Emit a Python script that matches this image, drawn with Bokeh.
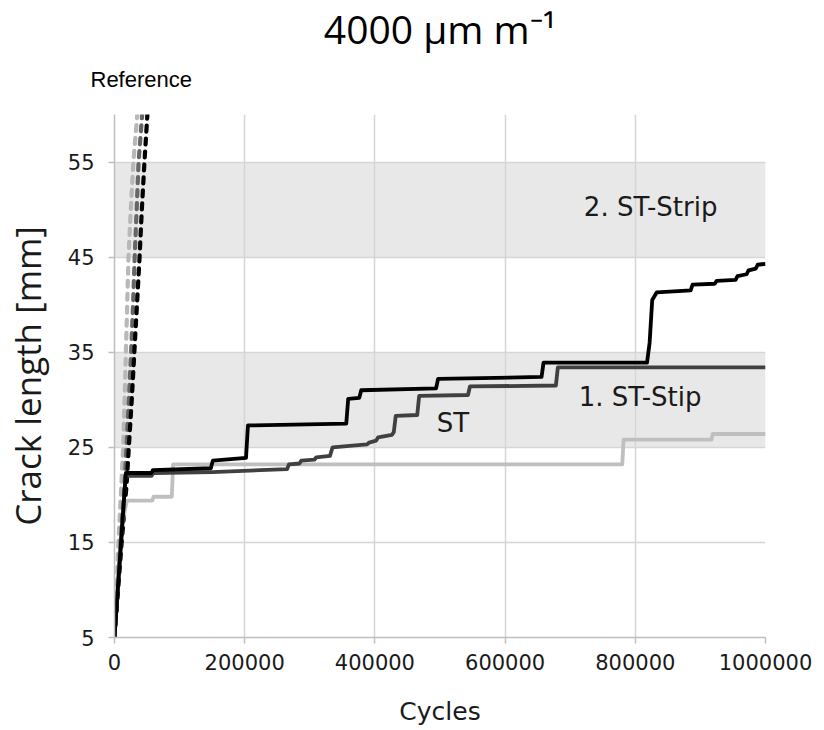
from bokeh.plotting import figure
from bokeh.models import Label, Range1d, FixedTicker, NumeralTickFormatter, Title
from bokeh.embed import file_html
from bokeh.resources import INLINE

# ---------------- data ----------------
x_ticks = [0, 200000, 400000, 600000, 800000, 1000000]
y_ticks = [5, 15, 25, 35, 45, 55]

band_bottom = [25, 45]
band_top = [35, 55]

# reference curves (dashed)
ref_light_cycles = [0, 6000, 10500, 13300, 15500, 17500, 19500, 21500, 25000, 29000, 35000]
ref_light_length = [5, 15, 21, 25, 30, 35, 40, 45, 50, 55, 60]

ref_dark_cycles = [0, 9000, 15500, 18400, 22000, 25500, 28500, 31000, 34000, 37000, 42500]
ref_dark_length = [5, 15, 21, 25, 30, 35, 40, 45, 50, 55, 60]

ref_black_cycles = [0, 11000, 18500, 22000, 26500, 30500, 34500, 38500, 42000, 46000, 50500]
ref_black_length = [5, 15, 21, 25, 30, 35, 40, 45, 50, 55, 60]

# measured curves (solid)
light_cycles = [0, 6000, 12000, 19000, 58000, 60000, 88000, 90000, 780000, 782000,
                917000, 919000, 1000000]
light_length = [5, 12, 17, 19.4, 19.4, 19.8, 19.8, 23.2, 23.2, 25.8,
                25.8, 26.4, 26.4]

dark_cycles = [0, 8000, 17000, 57000, 59000, 150000, 265000, 268000, 284000, 287000,
               307000, 310000, 331000, 335000, 370000, 388000, 391000, 402000, 405000,
               426000, 429000, 432000, 465000, 468000, 543000, 546000, 678000, 681000,
               1000000]
dark_length = [5, 13, 22.0, 22.0, 22.3, 22.4, 22.7, 23.2, 23.3, 23.6,
               23.7, 23.95, 24.1, 25.0, 25.2, 25.3, 25.5, 25.7, 26.05,
               26.3, 26.6, 28.3, 28.4, 30.4, 30.5, 31.4, 31.5, 33.4,
               33.4]

black_cycles = [0, 8000, 17500, 57000, 59000, 148000, 151000, 202000, 205000, 356000,
                359000, 376000, 379000, 494000, 497000, 656000, 659000, 818000, 822000,
                826000, 833000, 885000, 888000, 922000, 925000, 954000, 957000, 971000,
                974000, 985000, 988000, 1000000]
black_length = [5, 13, 22.3, 22.3, 22.6, 22.8, 23.6, 23.9, 27.3, 27.5,
                30.1, 30.2, 31.0, 31.2, 32.2, 32.4, 33.9, 33.9, 36.0,
                40.5, 41.3, 41.5, 42.1, 42.2, 42.5, 42.6, 43.0, 43.2,
                43.6, 43.8, 44.2, 44.3]

# ---------------- figure ----------------
p = figure(width=824, height=730, output_backend="svg", toolbar_location=None,
           x_range=Range1d(0, 1000000), y_range=Range1d(5, 60),
           min_border_left=114, min_border_right=59, min_border_top=0,
           min_border_bottom=93)
p.title_location = None
p.outline_line_color = None
p.background_fill_color = "white"
p.border_fill_color = "white"

# shaded bands
p.quad(left=0, right=1000000, bottom=band_bottom, top=band_top,
       fill_color="#e8e8e8", line_color=None, level="image")

# grid
for g in (p.xgrid, p.ygrid):
    g.grid_line_color = "#d6d6d6"
    g.grid_line_width = 1.5
p.xgrid.ticker = FixedTicker(ticks=x_ticks)
p.ygrid.ticker = FixedTicker(ticks=y_ticks)

# axes
p.xaxis.ticker = FixedTicker(ticks=x_ticks)
p.yaxis.ticker = FixedTicker(ticks=y_ticks)
p.xaxis.formatter = NumeralTickFormatter(format="0")
for ax in (p.xaxis, p.yaxis):
    ax.axis_line_color = "#bfbfbf"
    ax.axis_line_width = 1.5
    ax.major_tick_line_color = "#bfbfbf"
    ax.major_tick_line_width = 1.5
    ax.major_tick_out = 6
    ax.major_tick_in = 0
    ax.minor_tick_line_color = None
    ax.major_label_text_font = "DejaVu Sans"
    ax.major_label_text_font_size = "21px"
    ax.major_label_text_color = "#1a1a1a"
    ax.axis_label_text_font_style = "normal"
    ax.axis_label_text_color = "#1a1a1a"

p.xaxis.major_label_standoff = 10
p.yaxis.major_label_standoff = 14
p.xaxis.axis_label = "Cycles"
p.xaxis.axis_label_text_font = "DejaVu Sans"
p.xaxis.axis_label_text_font_size = "25px"
p.xaxis.axis_label_standoff = 24
p.yaxis.axis_label = "Crack length [mm]"
p.yaxis.axis_label_text_font = "Open Sans"
p.yaxis.axis_label_text_font_size = "35px"
p.yaxis.axis_label_standoff = 14

# reference (dashed) curves
p.line(ref_light_cycles, ref_light_length, line_color="#b8b8b8", line_width=4.2,
       line_dash="6 7", line_cap="round")
p.line(ref_dark_cycles, ref_dark_length, line_color="#666666", line_width=4.2,
       line_dash="6 7", line_cap="round")
p.line(ref_black_cycles, ref_black_length, line_color="#000000", line_width=4.2,
       line_dash="6 7", line_cap="round")

# measured curves
p.line(light_cycles, light_length, line_color="#bfbfbf", line_width=3.8, line_join="round")
p.line(dark_cycles, dark_length, line_color="#404040", line_width=3.8, line_join="round")
p.line(black_cycles, black_length, line_color="#000000", line_width=3.8, line_join="round")

# texts inside plot
for txt, x, y, align in [("ST", 520000, 27.6, "center"),
                         ("1. ST-Stip", 713000, 30.25, "left"),
                         ("2. ST-Strip", 721000, 50.3, "left")]:
    p.add_layout(Label(x=x, y=y, text=txt, text_font="DejaVu Sans",
                       text_font_size="26px", text_baseline="middle",
                       text_align=align, text_color="#1a1a1a"))

# titles above the frame (first added is nearest the frame)
p.add_layout(Title(text="Reference\n", align="left", offset=-24, standoff=22,
                   text_font="Liberation Sans", text_font_size="22px",
                   text_line_height=0.45,
                   text_font_style="normal", text_color="#000000"), "above")
p.add_layout(Title(text="4000 µm m⁻¹", align="center", standoff=-1,
                   text_font="Open Sans", text_font_size="39px",
                   text_font_style="normal", text_color="#000000"), "above")

open("out.html", "w").write(file_html(p, INLINE))
